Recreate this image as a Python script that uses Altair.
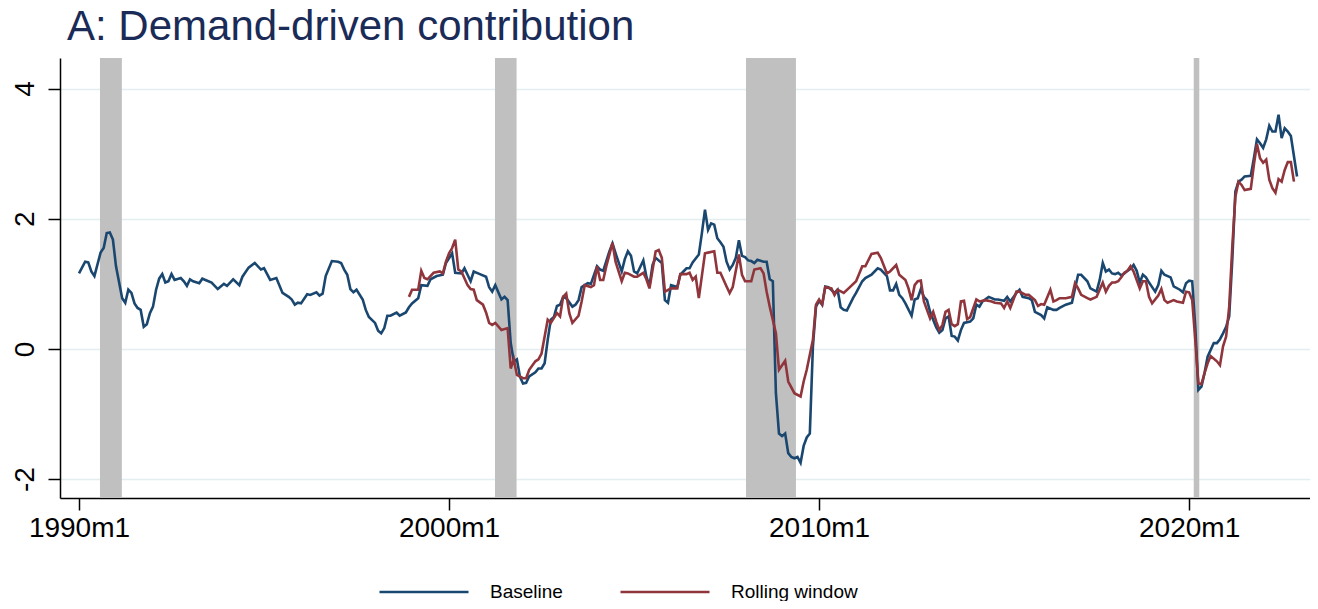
import altair as alt
import pandas as pd

# month index: 0 = 1990m1
base_m = [0,2,3,4,5,7,8,9,10,11,12,14,15,16,17,18,19,20,21,22,23,24,25,26,27,28,29,30,31,33,34,35,36,37,39,40,41,43,45,47,48,50,52,53,55,57,59,60,62,64,66,68,69,70,71,72,74,75,77,78,79,80,82,84,85,86,87,88,89,90,92,93,94,96,97,98,99,100,101,103,104,106,107,108,110,111,113,114,116,118,119,121,122,124,125,127,128,130,132,133,134,135,137,138,139,140,141,142,143,144,145,146,148,149,150,151,152,153,154,155,156,157,158,160,161,162,163,165,166,168,169,170,172,173,174,176,177,178,179,180,181,183,184,185,186,187,189,190,191,192,194,195,197,198,199,201,202,203,204,205,206,207,208,209,210,211,212,213,214,215,216,217,218,219,220,222,223,224,225,226,227,228,229,230,231,232,233,234,235,236,237,238,239,240,241,242,243,245,246,247,248,249,251,252,254,255,257,259,260,262,263,264,265,266,267,268,270,271,272,273,274,275,276,277,278,279,280,281,282,283,284,285,286,287,289,290,291,292,293,295,297,298,300,301,302,304,305,306,308,309,310,312,313,314,316,317,318,320,322,323,324,325,327,328,330,331,332,333,334,335,336,337,338,339,340,341,342,343,344,345,346,347,348,349,350,351,352,354,355,357,358,359,360,361,362,363,364,365,366,368,369,370,371,372,373,374,375,376,377,378,380,381,382,383,384,385,386,387,388,389,390,391,392,393,395]
base_v = [1.16,1.34,1.33,1.19,1.12,1.48,1.55,1.78,1.79,1.68,1.27,0.78,0.71,0.91,0.86,0.70,0.63,0.60,0.34,0.38,0.55,0.65,0.91,1.08,1.15,1.02,1.04,1.15,1.06,1.09,1.04,0.97,1.07,1.04,1.01,1.08,1.06,1.02,0.92,1.00,0.97,1.07,0.98,1.11,1.25,1.32,1.22,1.24,1.06,1.09,0.86,0.80,0.76,0.68,0.71,0.70,0.84,0.83,0.87,0.82,0.85,1.12,1.35,1.34,1.32,1.22,1.14,0.92,0.87,0.91,0.76,0.60,0.49,0.40,0.28,0.24,0.32,0.51,0.51,0.56,0.51,0.56,0.64,0.70,0.78,0.98,0.97,1.07,1.12,1.14,1.32,1.47,1.17,1.16,1.24,1.04,1.19,1.15,1.11,0.95,0.88,0.98,0.76,0.80,0.75,0.09,-0.19,-0.16,-0.43,-0.53,-0.52,-0.42,-0.36,-0.30,-0.30,-0.22,0.14,0.45,0.49,0.66,0.68,0.80,0.78,0.65,0.68,0.75,0.95,1.01,1.00,1.27,1.22,1.20,1.50,1.62,1.47,1.19,1.38,1.50,1.43,1.19,1.16,1.36,1.11,0.97,1.29,1.40,1.32,0.75,0.71,0.98,0.95,1.14,1.24,1.24,1.33,1.45,1.78,2.14,1.83,1.93,1.91,1.70,1.64,1.57,1.34,1.22,1.29,1.40,1.67,1.43,1.41,1.36,1.35,1.32,1.37,1.34,1.34,1.07,1.04,-0.68,-1.30,-1.34,-1.30,-1.60,-1.66,-1.68,-1.66,-1.75,-1.49,-1.36,-1.30,0.04,0.65,0.74,0.68,0.96,0.95,0.86,0.91,0.64,0.60,0.59,0.78,0.86,1.04,1.09,1.14,1.24,1.22,1.12,0.90,0.90,1.00,0.83,0.78,0.70,0.51,0.76,0.78,0.92,0.80,0.75,0.57,0.45,0.33,0.25,0.29,0.47,0.50,0.20,0.19,0.13,0.29,0.40,0.42,0.47,0.68,0.65,0.73,0.80,0.76,0.76,0.74,0.80,0.73,0.86,0.91,0.80,0.78,0.75,0.57,0.52,0.47,0.64,0.60,0.60,0.63,0.68,0.71,0.93,1.14,1.14,1.04,0.93,0.88,1.06,1.32,1.19,1.22,1.16,1.15,1.17,1.13,1.16,1.20,1.23,1.29,1.20,1.02,1.14,1.10,1.02,0.95,0.88,0.98,1.20,1.14,1.10,0.96,0.91,0.87,1.01,1.05,1.04,0.34,-0.63,-0.58,-0.37,-0.12,0.09,0.09,0.15,0.24,0.34,0.50,1.37,2.42,2.57,2.60,2.65,2.66,2.93,3.22,3.16,3.09,3.22,3.43,3.34,3.34,3.60,3.24,3.39,3.34,3.27,2.65]

roll_m = [107,108,110,111,112,113,115,117,118,119,120,121,122,123,124,126,127,128,129,131,132,133,134,135,137,139,140,141,142,144,145,146,148,149,150,152,153,155,156,157,158,159,160,162,163,164,166,167,168,169,170,171,173,174,176,177,178,180,181,183,184,185,187,188,189,190,192,194,195,197,198,199,200,201,203,204,206,207,208,210,211,212,214,215,216,218,219,221,222,223,224,226,227,229,230,232,234,235,236,237,238,239,240,241,242,244,245,246,248,250,252,254,255,257,259,260,262,263,265,266,268,269,270,271,272,273,274,276,277,278,279,280,281,282,283,284,285,286,287,288,289,291,292,294,296,297,299,300,301,302,304,305,307,308,310,311,312,313,315,316,317,318,320,322,323,324,325,327,328,330,332,333,334,335,336,337,338,339,340,341,342,344,345,346,347,348,350,351,352,353,355,356,358,359,360,361,362,363,364,365,366,367,369,370,371,372,373,374,375,376,377,378,380,381,382,383,384,385,386,387,388,389,390,391,392,393,394]
roll_v = [0.80,0.91,0.91,1.20,1.09,1.07,1.17,1.19,1.16,1.34,1.47,1.55,1.68,1.22,1.19,0.98,0.92,0.91,0.75,0.68,0.56,0.40,0.37,0.40,0.29,0.32,-0.30,-0.16,-0.40,-0.45,-0.45,-0.32,-0.19,-0.16,-0.07,0.45,0.40,0.55,0.50,0.80,0.85,0.55,0.40,0.51,0.73,0.98,0.95,0.98,1.27,1.06,1.06,1.27,1.63,1.34,1.04,1.17,1.16,1.11,1.11,1.17,1.07,0.93,1.50,1.52,1.40,0.88,0.93,0.93,1.15,1.15,1.17,1.06,1.11,0.78,1.47,1.48,1.50,1.17,1.17,0.96,0.86,0.95,1.45,1.14,1.04,1.04,1.22,1.24,1.16,0.88,0.65,0.24,-0.32,-0.18,-0.50,-0.68,-0.73,-0.50,-0.32,-0.09,0.14,0.68,0.76,0.68,0.95,0.93,0.83,0.91,0.86,0.95,1.04,1.27,1.27,1.46,1.48,1.40,1.16,1.19,1.29,1.14,1.06,0.93,0.75,0.98,1.04,1.05,0.73,0.47,0.57,0.42,0.29,0.37,0.57,0.60,0.38,0.35,0.38,0.73,0.74,0.46,0.49,0.76,0.73,0.75,0.73,0.71,0.70,0.63,0.73,0.63,0.88,0.88,0.83,0.83,0.75,0.66,0.69,0.68,0.91,0.73,0.75,0.78,0.78,0.80,1.01,0.93,0.83,0.78,0.76,0.80,1.02,0.88,0.97,1.02,1.02,1.04,1.10,1.17,1.20,1.27,1.19,0.93,1.04,1.04,0.80,0.70,0.82,0.92,0.75,0.71,0.75,0.73,0.71,0.88,0.87,0.75,0.14,-0.53,-0.54,-0.37,-0.22,-0.11,-0.19,-0.25,0.04,0.19,0.65,1.57,2.34,2.57,2.52,2.44,2.46,2.83,3.15,2.93,2.86,2.91,2.60,2.47,2.40,2.61,2.57,2.75,2.87,2.87,2.57]

# recession shading (month index, start/end)
rec_start = [6.8, 134.9, 216.3, 361.5]
rec_end = [13.9, 141.9, 232.5, 363.3]

series_names = ["Baseline", "Rolling window"]
series_colors = ["#1a476f", "#90353b"]
x_tick_values = [0, 120, 240, 360]
y_tick_values = [-2, 0, 2, 4]

FONT = "Liberation Sans"

lines = pd.concat([
    pd.DataFrame({"m": base_m, "v": base_v, "series": series_names[0]}),
    pd.DataFrame({"m": roll_m, "v": roll_v, "series": series_names[1]}),
])
rec = pd.DataFrame({"s": rec_start, "e": rec_end})

xscale = alt.Scale(domain=[-6.16, 399.2], nice=False, zero=False)
yscale = alt.Scale(domain=[-2.29, 4.47], nice=False, zero=False)

shade = alt.Chart(rec).mark_rect(color="#c0c0c0").encode(
    x=alt.X("s:Q", scale=xscale,
            axis=alt.Axis(values=x_tick_values, title=None, grid=False,
                          labelExpr="floor(1990 + datum.value/12) + 'm1'",
                          labelFont=FONT, labelFontSize=28, labelColor="black",
                          tickSize=12, tickColor="black", tickWidth=1.5,
                          domainColor="black", domainWidth=1.5,
                          labelPadding=4, labelFlush=False)),
    x2="e:Q",
)

line = alt.Chart(lines).mark_line(strokeWidth=2.6).encode(
    x=alt.X("m:Q", scale=xscale),
    y=alt.Y("v:Q", scale=yscale,
            axis=alt.Axis(values=y_tick_values, title=None, grid=True,
                          gridColor="#e4eef0", gridWidth=1.5,
                          labelExpr="'' + datum.value",
                          labelAngle=-90, labelFont=FONT, labelFontSize=28,
                          labelColor="black", tickSize=12, tickColor="black",
                          tickWidth=1.5, domainColor="black", domainWidth=1.5,
                          labelPadding=9)),
    color=alt.Color("series:N",
                    scale=alt.Scale(domain=series_names, range=series_colors),
                    legend=alt.Legend(title=None, orient="none", legendX=318,
                                      legendY=488, direction="horizontal",
                                      symbolType="stroke", symbolSize=7921,
                                      symbolStrokeWidth=2.6,
                                      labelFont=FONT, labelFontSize=19,
                                      labelColor="black", labelOffset=20,
                                      columnPadding=52)),
    order="m:Q",
)

chart = alt.layer(shade, line).properties(
    width=1250,
    height=440,
    autosize=alt.AutoSizeParams(type="none"),
    padding={"left": 52, "top": 50, "right": 0, "bottom": 103},
    title=alt.TitleParams("A: Demand-driven contribution", anchor="start",
                          font=FONT, fontSize=42, fontWeight="normal",
                          color="#1a2b57", offset=12, dx=56, dy=3),
).configure_view(stroke="transparent")

chart.save("out.html", embed_options={"renderer": "svg", "actions": False})
